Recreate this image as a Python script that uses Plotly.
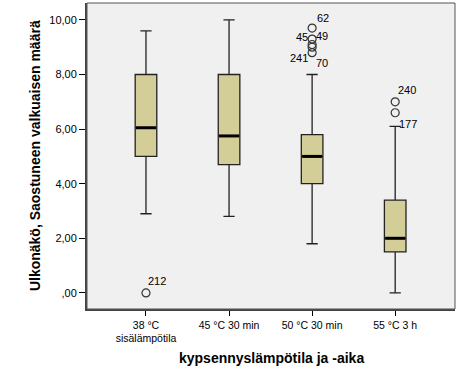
import plotly.graph_objects as go

categories = ["38 °C<br>sisälämpötila", "45 °C 30 min", "50 °C 30 min", "55 °C 3 h"]
lower_whisker = [2.9, 2.8, 1.8, 0.0]
q1 = [5.0, 4.7, 4.0, 1.5]
median = [6.05, 5.75, 5.0, 2.0]
q3 = [8.0, 8.0, 5.8, 3.4]
upper_whisker = [9.6, 10.0, 8.0, 6.1]

outlier_group = [0, 2, 2, 2, 2, 2, 3, 3]
outlier_values = [0.0, 9.7, 9.3, 9.1, 9.0, 8.8, 7.0, 6.6]
outlier_ids = ["212", "62", "45", "49", "70", "241", "240", "177"]

y_tick_values = [0, 2, 4, 6, 8, 10]
y_tick_labels = [",00", "2,00", "4,00", "6,00", "8,00", "10,00"]

x_title = "kypsennyslämpötila ja -aika"
y_title = "Ulkonäkö, Saostuneen valkuaisen määrä"

FONT = "Liberation Sans, Arial, sans-serif"
BOX_FILL = "#D3CE97"
BOX_W = 0.26

positions = list(range(len(categories)))

fig = go.Figure()
fig.add_trace(go.Box(
    x=positions, q1=q1, median=median, q3=q3,
    lowerfence=lower_whisker, upperfence=upper_whisker,
    width=BOX_W, whiskerwidth=0.52,
    fillcolor=BOX_FILL, line=dict(color="#222222", width=1.3),
    boxpoints=False, showlegend=False, hoverinfo="skip",
))

# thick median lines
mx, my = [], []
for p, m in zip(positions, median):
    mx += [p - BOX_W / 2 + 0.01, p + BOX_W / 2 - 0.01, None]
    my += [m, m, None]
fig.add_trace(go.Scatter(x=mx, y=my, mode="lines",
                         line=dict(color="black", width=3),
                         showlegend=False, hoverinfo="skip"))

fig.add_trace(go.Scatter(
    x=outlier_group, y=outlier_values, mode="markers",
    marker=dict(symbol="circle-open", size=8, color="#333333", line=dict(width=1.2)),
    showlegend=False, hoverinfo="skip",
))

label_offsets = {
    "212": (11, 12), "62": (11, 10), "45": (-10, 2), "49": (10, 8),
    "70": (10, -16), "241": (-13, -5), "240": (12, 12), "177": (13, -11),
}
for g, v, lab in zip(outlier_group, outlier_values, outlier_ids):
    dx, dy = label_offsets[lab]
    fig.add_annotation(x=g, y=v, text=lab, showarrow=False,
                       xshift=dx, yshift=dy,
                       font=dict(family=FONT, size=11, color="black"))

fig.add_annotation(xref="paper", yref="paper", x=0.501, y=-0.16,
                   xanchor="center", yanchor="middle",
                   text="<b>" + x_title + "</b>", showarrow=False,
                   font=dict(family=FONT, size=14, color="black"))
fig.add_annotation(xref="paper", yref="paper", x=-0.141, y=0.5,
                   xanchor="center", yanchor="middle",
                   text="<b>" + y_title + "</b>", showarrow=False,
                   textangle=-90,
                   font=dict(family=FONT, size=14, color="black"))

# thin top/right frame
fig.add_shape(type="rect", xref="paper", yref="paper", x0=0, y0=0, x1=1, y1=1,
              line=dict(color="#555555", width=1), layer="above")

fig.update_layout(
    width=461, height=378,
    margin=dict(l=87, r=6, t=3, b=69),
    paper_bgcolor="white", plot_bgcolor="#F0F0F0",
    font=dict(family=FONT, size=11, color="black"),
    showlegend=False,
)
fig.update_xaxes(
    range=[-0.71, 3.72], tickvals=positions, ticktext=categories,
    showgrid=False, zeroline=False, automargin=False,
    showline=True, linecolor="#444444", linewidth=2,
    ticks="outside", ticklen=5, tickcolor="black", tickwidth=1,
    tickfont=dict(family=FONT, size=10.5, color="black"),
)
fig.update_yaxes(
    range=[-0.59, 10.62], tickvals=y_tick_values, ticktext=y_tick_labels,
    showgrid=False, zeroline=False, automargin=False,
    showline=True, linecolor="#444444", linewidth=2,
    ticks="outside", ticklen=6, tickcolor="black", tickwidth=1,
    tickfont=dict(family=FONT, size=11, color="black"),
)

fig.write_html("out.html", config={"displayModeBar": False},
               post_script="document.body.style.margin='0';document.body.style.overflow='hidden';")
